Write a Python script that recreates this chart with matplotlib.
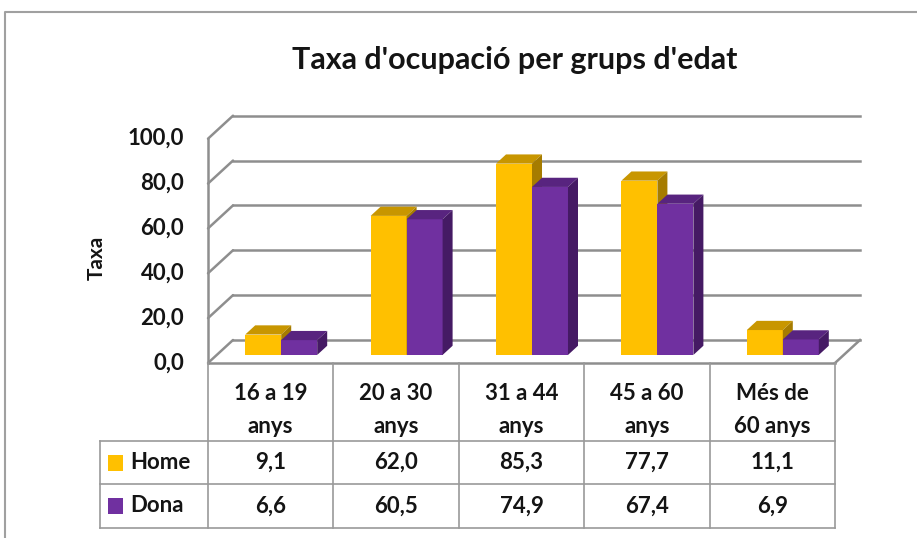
import matplotlib
matplotlib.use("Agg")
import matplotlib.pyplot as plt
from matplotlib.patches import Polygon, Rectangle

# data
categories = ["16 a 19\nanys", "20 a 30\nanys", "31 a 44\nanys", "45 a 60\nanys", "Més de\n60 anys"]
series_names = ["Home", "Dona"]
home = [9.1, 62.0, 85.3, 77.7, 11.1]
dona = [6.6, 60.5, 74.9, 67.4, 6.9]
yticks = [0, 20, 40, 60, 80, 100]
title = "Taxa d'ocupació per grups d'edat"
ylabel = "Taxa"

plt.rcParams['font.family'] = ['Lato', 'DejaVu Sans']

face = {"Home": "#FFC000", "Dona": "#7030A0"}
top = {"Home": "#C89600", "Dona": "#58247F"}
side = {"Home": "#A67C00", "Dona": "#451A64"}
grid_c = "#8E8E8E"
txt_c = "#141414"

W, H = 917, 538
fig = plt.figure(figsize=(W / 100, H / 100), dpi=100)
ax = fig.add_axes([0, 0, 1, 1])
ax.axis('off')

# pixel layout -> data units (category units in x, value units in y)
x0_px, x1_px = 208, 835
y0_px, y100_px = 363, 138.7
cw = (x1_px - x0_px) / len(categories)
vu = (y0_px - y100_px) / 100.0
ax.set_xlim(-x0_px / cw, (W - x0_px) / cw)
ax.set_ylim(-(H - y0_px) / vu, y0_px / vu)

n = len(categories)
DX = 25 / cw
DY = 23 / vu

# walls / grid
for v in yticks:
    ax.plot([0, DX], [v, v + DY], color=grid_c, lw=1.8, solid_capstyle='round')
    ax.plot([DX, n + DX], [v + DY, v + DY], color=grid_c, lw=1.8)
    ax.text(-0.19, v, f"{v:.1f}".replace('.', ','), ha='right', va='center',
            fontsize=16, fontweight='bold', color=txt_c)
ax.plot([0, 0], [0, 100], color=grid_c, lw=1.8)
ax.plot([0, n], [0, 0], color=grid_c, lw=1.8)
ax.plot([n, n + DX], [0, DY], color=grid_c, lw=1.8)

# bars
d0, d1 = 0.35, 0.75
bw = 0.287
off = 0.227
for i in range(n):
    for s, (name, vals) in enumerate(zip(series_names, [home, dona])):
        val = vals[i]
        bx = i + d0 * DX + off + s * bw
        by = d0 * DY
        ddx = (d1 - d0) * DX
        ddy = (d1 - d0) * DY
        ax.add_patch(Rectangle((bx, by), bw, val, facecolor=face[name], edgecolor='none', zorder=3))
        ax.add_patch(Polygon([(bx, by + val), (bx + bw, by + val),
                              (bx + bw + ddx, by + val + ddy), (bx + ddx, by + val + ddy)],
                             closed=True, facecolor=top[name], edgecolor='none', zorder=3))
        ax.add_patch(Polygon([(bx + bw, by), (bx + bw + ddx, by + ddy),
                              (bx + bw + ddx, by + val + ddy), (bx + bw, by + val)],
                             closed=True, facecolor=side[name], edgecolor='none', zorder=3))

# data table
tab_c = "#9A9A9A"
r1 = -(441 - y0_px) / vu
r2 = -(484 - y0_px) / vu
r3 = -(528 - y0_px) / vu
xl = -(x0_px - 100) / cw
for i in range(n + 1):
    ax.plot([i, i], [0, r3], color=tab_c, lw=1.2)
ax.plot([xl, xl], [r1, r3], color=tab_c, lw=1.2)
for r in [r1, r2, r3]:
    ax.plot([xl, n], [r, r], color=tab_c, lw=1.2)

hy = -(410 - y0_px) / vu
for i, c in enumerate(categories):
    ax.text(i + 0.5, hy, c, ha='center', va='center', fontsize=16,
            fontweight='bold', linespacing=1.65, color=txt_c)
for (ra, rb), name, vals in zip([(r1, r2), (r2, r3)], series_names, [home, dona]):
    yc = (ra + rb) / 2
    for i, v in enumerate(vals):
        ax.text(i + 0.5, yc, f"{v:.1f}".replace('.', ','), ha='center', va='center',
                fontsize=16, fontweight='bold', color=txt_c)
    sq_w = 15 / cw
    sq_h = 16 / vu
    ax.add_patch(Rectangle((xl + 8 / cw, yc - sq_h / 2), sq_w, sq_h,
                           facecolor=face[name], edgecolor='none'))
    ax.text(xl + 30 / cw, yc, name, ha='left', va='center', fontsize=16,
            fontweight='bold', color=txt_c)

# titles
fig.text(515 / W, 1 - 60 / H, title, ha='center', va='center', fontsize=22,
         fontweight='bold', color=txt_c)
fig.text(97 / W, 1 - 258 / H, ylabel, ha='center', va='center', rotation=90,
         fontsize=15, fontweight='bold', color=txt_c)

# outer border
fig.add_artist(plt.Line2D([5 / W, 5 / W, 1], [0, 1 - 12 / H, 1 - 12 / H],
                          color="#A0A0A0", lw=1.5, transform=fig.transFigure))

fig.savefig("out.png", dpi=100)
